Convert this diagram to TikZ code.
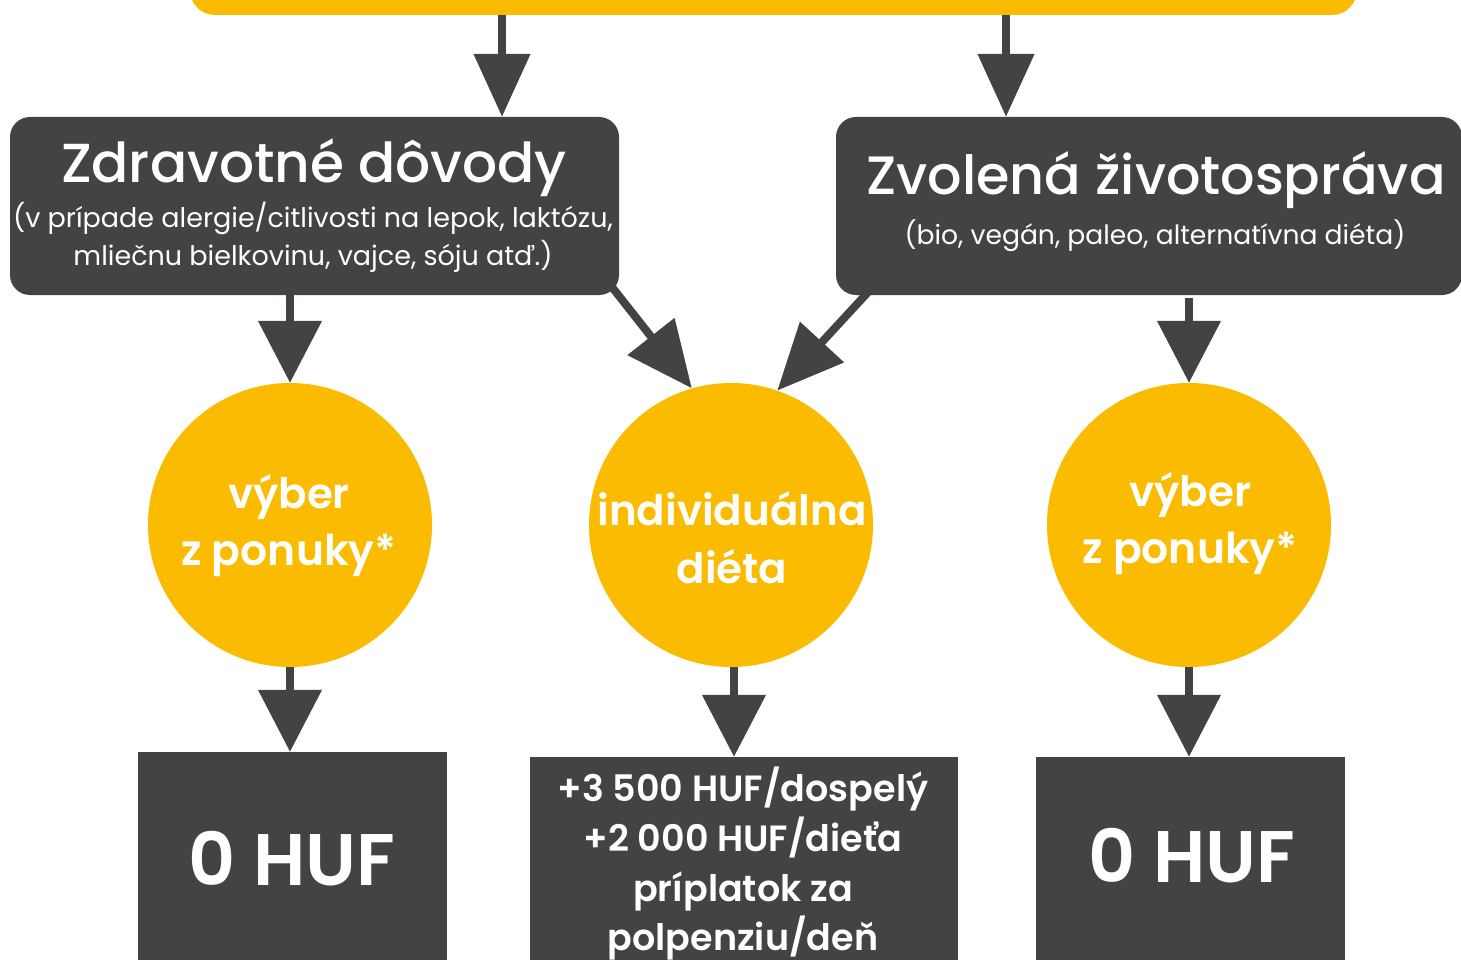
\documentclass[tikz,border=0pt]{standalone}
\usepackage{fontspec}
\setmainfont{Poppins}
\newfontfamily\pmed{Poppins Medium}
\newfontfamily\psemi{Poppins SemiBold}
\usetikzlibrary{arrows.meta,backgrounds}
\definecolor{ylw}{HTML}{FABB00}
\definecolor{drk}{HTML}{444245}
\tikzset{
  darkbox/.style={fill=drk, rounded corners=20pt, inner sep=0pt},
  pricebox/.style={fill=drk, inner sep=0pt},
  ball/.style={circle, fill=ylw, inner sep=0pt, minimum size=284pt},
  wtxt/.style={text=white, inner sep=0pt, anchor=base},
  arr/.style={draw=drk, line width=8pt, -{Triangle[width=62pt,length=62pt]}},
}
\begin{document}
\begin{tikzpicture}[x=1pt,y=-1pt]
\useasboundingbox (0,0) rectangle (1461,960);
% nodes
\node[fill=ylw, rounded corners=25pt, minimum width=1167pt, minimum height=80pt, inner sep=0pt] (top) at (773.5,-25) {};
\node[darkbox, minimum width=609pt, minimum height=178pt] (L) at (314.5,206) {};
\node[darkbox, minimum width=626pt, minimum height=178pt] (R) at (1149,206) {};
\node[ball] (c1) at (290,525) {};
\node[ball] (c2) at (731,525) {};
\node[ball] (c3) at (1189,525) {};
\node[pricebox, minimum width=309pt, minimum height=230pt] (b1) at (292.5,867) {};
\node[pricebox, minimum width=428pt, minimum height=230pt] (b2) at (744,872) {};
\node[pricebox, minimum width=309pt, minimum height=230pt] (b3) at (1190.5,872) {};
% texts
\node[wtxt, font=\pmed\fontsize{55}{60}\selectfont] (Lt) at (314,183) {Zdravotné dôvody};
\node[wtxt, font=\fontsize{27}{30}\selectfont] (Ls1) at (313,227) {(v prípade alergie/citlivosti na lepok, laktózu,};
\node[wtxt, font=\fontsize{27}{30}\selectfont] (Ls2) at (313,265) {mliečnu bielkovinu, vajce, sóju atď.)};
\node[wtxt, font=\pmed\fontsize{54}{58}\selectfont] (Rt) at (1156,194) {Zvolená životospráva};
\node[wtxt, font=\fontsize{26.6}{30}\selectfont] (Rs) at (1155,244) {(bio, vegán, paleo, alternatívna diéta)};
\node[wtxt, font=\psemi\fontsize{42}{46}\selectfont] (c1a) at (289,508) {výber};
\node[wtxt, font=\psemi\fontsize{42.5}{46}\selectfont] (c1b) at (289,565) {z ponuky*};
\node[wtxt, font=\psemi\fontsize{42}{46}\selectfont] (c2a) at (732,525) {individuálna};
\node[wtxt, font=\psemi\fontsize{42}{46}\selectfont] (c2b) at (732,583) {diéta};
\node[wtxt, font=\psemi\fontsize{42}{46}\selectfont] (c3a) at (1190,506) {výber};
\node[wtxt, font=\psemi\fontsize{42.5}{46}\selectfont] (c3b) at (1190,563) {z ponuky*};
\node[wtxt, font=\psemi\fontsize{73}{76}\selectfont] (b1t) at (292,885) {0 HUF};
\node[wtxt, font=\psemi\fontsize{73}{76}\selectfont] (b3t) at (1192,882) {0 HUF};
\node[wtxt, font=\psemi\fontsize{36.5}{40}\selectfont] (b2a) at (743,801) {+3 500 HUF/dospelý};
\node[wtxt, font=\psemi\fontsize{36.5}{40}\selectfont] (b2b) at (743,851) {+2 000 HUF/dieťa};
\node[wtxt, font=\psemi\fontsize{36.5}{40}\selectfont] (b2c) at (743,901) {príplatok za};
\node[wtxt, font=\psemi\fontsize{36.5}{40}\selectfont] (b2d) at (743,950) {polpenziu/deň};
% connectors
\coordinate (t1) at (502,10);
\coordinate (t2) at (1006,10);
\coordinate (ld) at (608,282);
\coordinate (rd) at (870,290);
\coordinate (m2) at (734,667);
\begin{scope}[on background layer]
\draw[arr,-{Triangle[width=55pt,length=63pt]}] (t1) -- (L.north -| t1);
\draw[arr,-{Triangle[width=55pt,length=63pt]}] (t2) -- (R.north -| t2);
\draw[arr] (L.south -| c1.north) -- (c1.north);
\draw[arr] (R.south -| c3.north) ++(0,3) -- (c3.north);
\draw[arr,-{Triangle[width=58pt,length=66pt]}] (ld) -- (c2.106);
\draw[arr,-{Triangle[width=58pt,length=66pt]}] (rd) -- (c2.71);
\draw[arr] (c1.south) -- (b1.north -| c1.south);
\draw[arr] (m2) -- (b2.north -| m2);
\draw[arr] (c3.south) -- (b3.north -| c3.south);
\end{scope}
\end{tikzpicture}
\end{document}
